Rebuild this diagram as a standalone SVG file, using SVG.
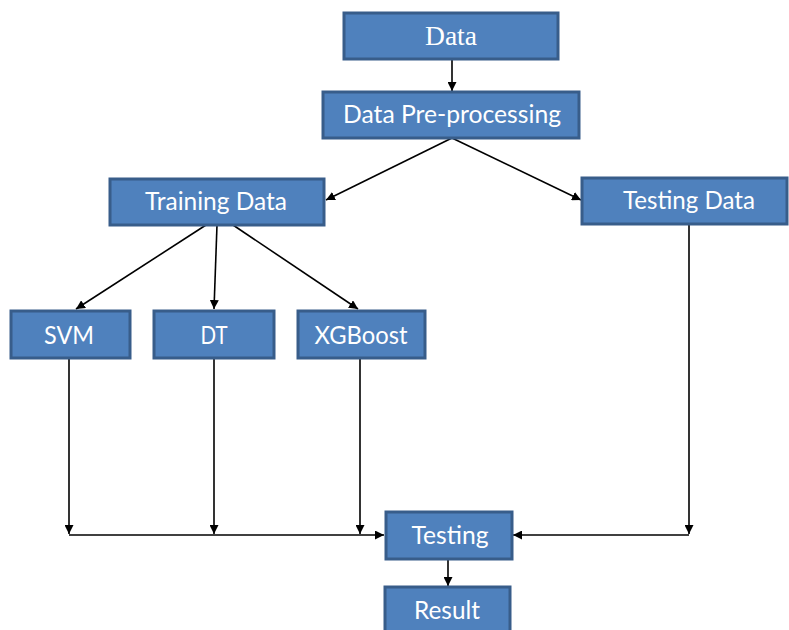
<svg xmlns="http://www.w3.org/2000/svg" width="789" height="630" viewBox="0 0 789 630">
<style>
.box{fill:#4F81BD;stroke:#385D8A;stroke-width:3}
.lbl{fill:#fff;font-family:Lato,"Open Sans","Liberation Sans",sans-serif;font-size:25px;text-anchor:middle}
.ser{font-family:"Liberation Serif",serif;font-size:27px}
.c{stroke:#000;stroke-width:1.6;fill:none}
</style>
<defs>
<marker id="ah" viewBox="0 0 10 10" refX="10" refY="5" markerWidth="9" markerHeight="9" markerUnits="userSpaceOnUse" orient="auto">
<path d="M0,0 L10,5 L0,10 z" fill="#000"/>
</marker>
</defs>
<g id="connectors">
<line class="c" x1="452" y1="59" x2="452" y2="91" marker-end="url(#ah)"/>
<line class="c" x1="452" y1="138" x2="326" y2="200" marker-end="url(#ah)"/>
<line class="c" x1="452" y1="138" x2="581" y2="200" marker-end="url(#ah)"/>
<line class="c" x1="206" y1="225" x2="76" y2="309" marker-end="url(#ah)"/>
<line class="c" x1="217" y1="225" x2="214" y2="309" marker-end="url(#ah)"/>
<line class="c" x1="233" y1="225" x2="358" y2="309" marker-end="url(#ah)"/>
<line class="c" x1="69" y1="358" x2="69" y2="534" marker-end="url(#ah)"/>
<line class="c" x1="214" y1="358" x2="214" y2="534" marker-end="url(#ah)"/>
<line class="c" x1="360" y1="358" x2="360" y2="534" marker-end="url(#ah)"/>
<line class="c" x1="689" y1="225" x2="689" y2="534" marker-end="url(#ah)"/>
<line class="c" x1="69" y1="535" x2="384" y2="535" marker-end="url(#ah)"/>
<line class="c" x1="689" y1="535" x2="513" y2="535" marker-end="url(#ah)"/>
<line class="c" x1="448" y1="559" x2="448" y2="586" marker-end="url(#ah)"/>
</g>
<g id="data"><rect class="box" x="344" y="13" width="214" height="46"/><text class="lbl ser" x="451" y="45" textLength="52" lengthAdjust="spacingAndGlyphs">Data</text></g>
<g id="preprocessing"><rect class="box" x="323" y="92" width="256" height="46"/><text class="lbl" x="452" y="123" textLength="218" lengthAdjust="spacingAndGlyphs">Data Pre-processing</text></g>
<g id="training"><rect class="box" x="110" y="179" width="214" height="46"/><text class="lbl" x="216" y="210" textLength="142" lengthAdjust="spacingAndGlyphs">Training Data</text></g>
<g id="testingdata"><rect class="box" x="582" y="178" width="205" height="46"/><text class="lbl" x="689" y="209" textLength="132" lengthAdjust="spacingAndGlyphs">Testing Data</text></g>
<g id="svm"><rect class="box" x="11" y="311" width="119" height="47"/><text class="lbl" x="69" y="344" textLength="50" lengthAdjust="spacingAndGlyphs">SVM</text></g>
<g id="dt"><rect class="box" x="154" y="311" width="120" height="47"/><text class="lbl" x="214" y="344" textLength="27" lengthAdjust="spacingAndGlyphs">DT</text></g>
<g id="xgboost"><rect class="box" x="298" y="311" width="127" height="47"/><text class="lbl" x="361" y="344" textLength="93" lengthAdjust="spacingAndGlyphs">XGBoost</text></g>
<g id="testing"><rect class="box" x="386" y="512" width="126" height="47"/><text class="lbl" x="450" y="544" textLength="77" lengthAdjust="spacingAndGlyphs">Testing</text></g>
<g id="result"><rect class="box" x="385" y="587" width="125" height="46"/><text class="lbl" x="447" y="619" textLength="66" lengthAdjust="spacingAndGlyphs">Result</text></g>
</svg>
